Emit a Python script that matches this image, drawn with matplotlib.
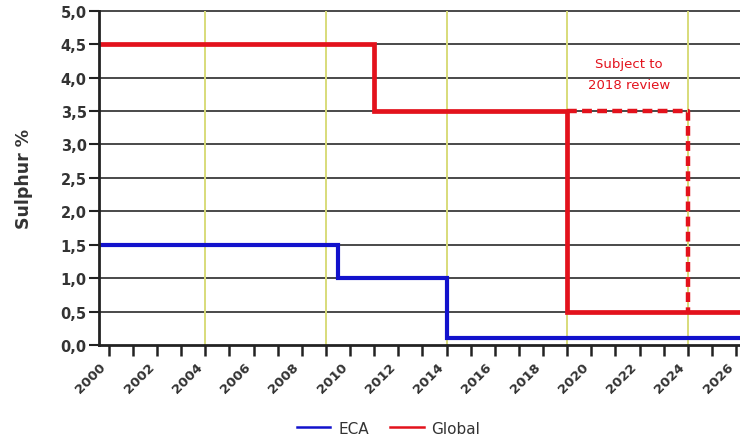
import numpy as np
import matplotlib
matplotlib.use("Agg")
import matplotlib.pyplot as plt

# sulphur limits (% m/m)
eca_years = [2000, 2010.5, 2015, 2028]
eca_values = [1.5, 1.0, 0.1, 0.1]
global_years = [2000, 2012, 2020, 2028]
global_values = [4.5, 3.5, 0.5, 0.5]
review_years = [2020, 2025]
review_values = [3.5, 0.5]
milestones = [2005, 2010, 2015, 2020, 2025]
label_years = list(range(2000, 2027, 2))
y_ticks = np.arange(0, 5.01, 0.5)

RED = "#e3121c"
BLUE = "#1212cc"
TXT = "#333333"

plt.rcParams["font.family"] = ["DejaVu Sans"]

fig = plt.figure(figsize=(7.4, 4.39), dpi=100)
ax = fig.add_axes([0.134, 0.212, 0.866, 0.761])

# grid
for y in y_ticks[1:]:
    ax.axhline(y, color="#3a3a3a", lw=1.3, zorder=1, clip_on=False)
for x in milestones:
    ax.axvline(x, color="#d8dc7a", lw=1.4, zorder=1)

ax.plot(eca_years, eca_values, drawstyle="steps-post", color=BLUE, lw=3.0,
        zorder=3, label="ECA", solid_joinstyle="miter")
ax.plot(global_years, global_values, drawstyle="steps-post", color=RED, lw=3.4,
        zorder=3, label="Global", solid_joinstyle="miter")
ax.plot(review_years, review_values, drawstyle="steps-post", color=RED, lw=3.2,
        ls=(0, (2.2, 1.2)), zorder=3)

ax.text(2022.55, 4.05, "Subject to\n2018 review", color=RED, fontsize=9.5,
        ha="center", va="center", linespacing=1.8)

ax.set_xlim(2001, 2027.16)
ax.set_ylim(0, 5.0)

# year tick marks, labels sit between them like the original
ax.set_xticks(np.arange(2001, 2028), minor=True)
ax.set_xticks([y + 0.6 for y in label_years])
ax.set_xticklabels([str(y) for y in label_years], rotation=45, ha="right",
                   rotation_mode="anchor", fontsize=9.5, fontweight="bold", color=TXT)
ax.tick_params(axis="x", which="major", length=0, pad=11)
ax.tick_params(axis="x", which="minor", length=8, width=1.8, color="#222222", direction="out")

ax.set_yticks(y_ticks)
ax.set_yticklabels([f"{v:.1f}".replace(".", ",") for v in y_ticks],
                   fontsize=10.5, fontweight="bold", color=TXT)
ax.tick_params(axis="y", length=7, width=1.5, color="#222222", pad=2)

ax.set_ylabel("Sulphur %", fontsize=12.5, fontweight="bold", color=TXT, labelpad=20)

for side in ["top", "right"]:
    ax.spines[side].set_visible(False)
for side in ["left", "bottom"]:
    ax.spines[side].set_linewidth(2.0)
    ax.spines[side].set_color("#222222")
    ax.spines[side].set_zorder(4)

leg = fig.legend(loc="center", bbox_to_anchor=(0.525, 0.022), ncol=2, frameon=False,
                 fontsize=11, handlelength=2.2, columnspacing=1.4, handletextpad=0.5)
for t in leg.get_texts():
    t.set_color(TXT)
for h in leg.get_lines():
    h.set_linewidth(1.8)

fig.savefig("out.png", dpi=100)
